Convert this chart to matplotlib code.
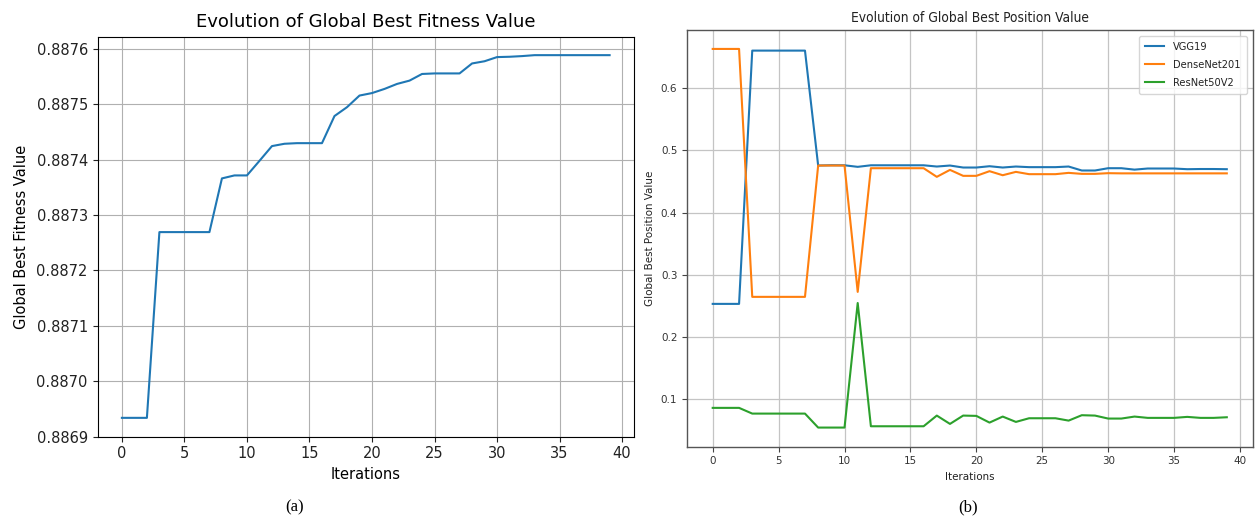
import matplotlib
matplotlib.use("Agg")
import matplotlib.pyplot as plt
from matplotlib import font_manager

iters = list(range(40))

fitness = [0.8869337, 0.8869337, 0.8869337, 0.8872693, 0.8872693, 0.8872693, 0.8872693, 0.8872693,
           0.8873663, 0.8873717, 0.8873717, 0.8873980, 0.8874247, 0.8874289, 0.8874300, 0.8874300,
           0.8874300, 0.8874790, 0.8874950, 0.8875160, 0.8875205, 0.8875280, 0.8875370, 0.8875430,
           0.8875550, 0.8875560, 0.8875560, 0.8875560, 0.8875740, 0.8875780, 0.8875855, 0.8875861,
           0.8875873, 0.8875890, 0.8875890, 0.8875890, 0.8875890, 0.8875890, 0.8875890, 0.8875890]

vgg19 = [0.2529, 0.2529, 0.2529, 0.6606, 0.6606, 0.6606, 0.6606, 0.6606,
         0.4756, 0.4761, 0.4760, 0.4735, 0.4760, 0.4760, 0.4760, 0.4760,
         0.4760, 0.4740, 0.4756, 0.4724, 0.4724, 0.4745, 0.4724, 0.4740,
         0.4730, 0.4730, 0.4730, 0.4740, 0.4676, 0.4676, 0.4713, 0.4713,
         0.4690, 0.4708, 0.4708, 0.4708, 0.4697, 0.4700, 0.4700, 0.4697]

densenet201 = [0.6633, 0.6633, 0.6633, 0.2642, 0.2642, 0.2642, 0.2642, 0.2642,
               0.4756, 0.4756, 0.4756, 0.2722, 0.4713, 0.4713, 0.4713, 0.4713,
               0.4713, 0.4574, 0.4686, 0.4590, 0.4590, 0.4665, 0.4600, 0.4654,
               0.4617, 0.4617, 0.4617, 0.4638, 0.4622, 0.4622, 0.4633, 0.4630,
               0.4630, 0.4630, 0.4630, 0.4630, 0.4630, 0.4630, 0.4630, 0.4630]

resnet50v2 = [0.0855, 0.0855, 0.0855, 0.0763, 0.0763, 0.0763, 0.0763, 0.0763,
              0.0538, 0.0538, 0.0538, 0.2543, 0.0559, 0.0559, 0.0559, 0.0559,
              0.0559, 0.0731, 0.0597, 0.0731, 0.0726, 0.0618, 0.0715, 0.0629,
              0.0688, 0.0688, 0.0688, 0.0650, 0.0737, 0.0731, 0.0683, 0.0683,
              0.0715, 0.0694, 0.0694, 0.0694, 0.0710, 0.0694, 0.0694, 0.0704]

series_names = ["VGG19", "DenseNet201", "ResNet50V2"]
left_yticks = [0.8869, 0.8870, 0.8871, 0.8872, 0.8873, 0.8874, 0.8875, 0.8876]
right_yticks = [0.1, 0.2, 0.3, 0.4, 0.5, 0.6]
xticks = [0, 5, 10, 15, 20, 25, 30, 35, 40]

# pick a narrow font for the right panel, if one is installed
narrow = None
for f in font_manager.fontManager.ttflist:
    fn = f.fname.lower()
    if 'dejavusanscondensed.ttf' in fn:
        narrow = font_manager.FontProperties(fname=f.fname)
        break
if narrow is None:
    for f in font_manager.fontManager.ttflist:
        fn = f.fname.lower()
        if ('narrow' in fn or 'condensed' in fn) and 'bold' not in fn and 'italic' not in fn and 'oblique' not in fn:
            narrow = font_manager.FontProperties(fname=f.fname)
            break
if narrow is None:
    narrow = font_manager.FontProperties(family='DejaVu Sans')
    rs = 0.9
else:
    rs = 1.1


def nf(size):
    p = narrow.copy()
    p.set_size(size * rs)
    return p


fig = plt.figure(figsize=(12.55, 5.17), dpi=100)

# ---- left panel ----
ax1 = fig.add_axes([97.5/1255, 1-436.5/517, 536.5/1255, 399.5/517])
ax1.plot(iters, fitness, color='#1f77b4', lw=1.5)
ax1.set_xticks(xticks)
ax1.set_yticks(left_yticks)
ax1.set_yticklabels([f"{v:.4f}" for v in left_yticks])
ax1.set_xlim(-1.95, 40.95)
ax1.set_ylim(0.8869, max(fitness) + 0.0000328)
ax1.grid(True, color='#b0b0b0', lw=0.8)
ax1.set_title("Evolution of Global Best Fitness Value", fontsize=13, pad=7)
ax1.set_xlabel("Iterations", fontsize=10.5)
ax1.set_ylabel("Global Best Fitness Value", fontsize=10.5, labelpad=5)
ax1.tick_params(labelsize=10.5, colors='#222222', labelcolor='#222222')

# ---- right panel ----
ax2 = fig.add_axes([687/1255, 1-446.5/517, 565.5/1255, 416.5/517])
cols = ['#1f77b4', '#ff7f0e', '#2ca02c']
for data, name, c in zip([vgg19, densenet201, resnet50v2], series_names, cols):
    ax2.plot(iters, data, color=c, lw=1.5, label=name)
ax2.set_xticks(xticks)
ax2.set_yticks(right_yticks)
ax2.set_xlim(-1.95, 40.95)
ax2.grid(True, color='#c4c4c4', lw=0.9)
ax2.set_title("Evolution of Global Best Position Value", fontproperties=nf(9), pad=6, color='#222222')
ax2.set_xlabel("Iterations", fontproperties=nf(7.5), color='#222222')
ax2.set_ylabel("Global Best Position Value", fontproperties=nf(7.5), color='#222222')
ax2.tick_params(colors='#444444')
for lab in ax2.get_xticklabels() + ax2.get_yticklabels():
    lab.set_fontproperties(nf(7.5))
    lab.set_color('#333333')
leg = ax2.legend(loc='upper right', prop=nf(7.2), borderpad=0.6, labelspacing=0.7,
                 handlelength=1.7, handletextpad=0.8)
for t in leg.get_texts():
    t.set_color('#222222')
for sp in ax2.spines.values():
    sp.set_color('#555555')
    sp.set_linewidth(1.0)

# captions
fig.text(295/1255, 1-507/517, "(a)", ha='center', va='center', fontsize=12, family='Liberation Serif')
fig.text(968/1255, 1-507/517, "(b)", ha='center', va='center', fontsize=12, family='Liberation Serif')

fig.savefig("out.png", dpi=100)
